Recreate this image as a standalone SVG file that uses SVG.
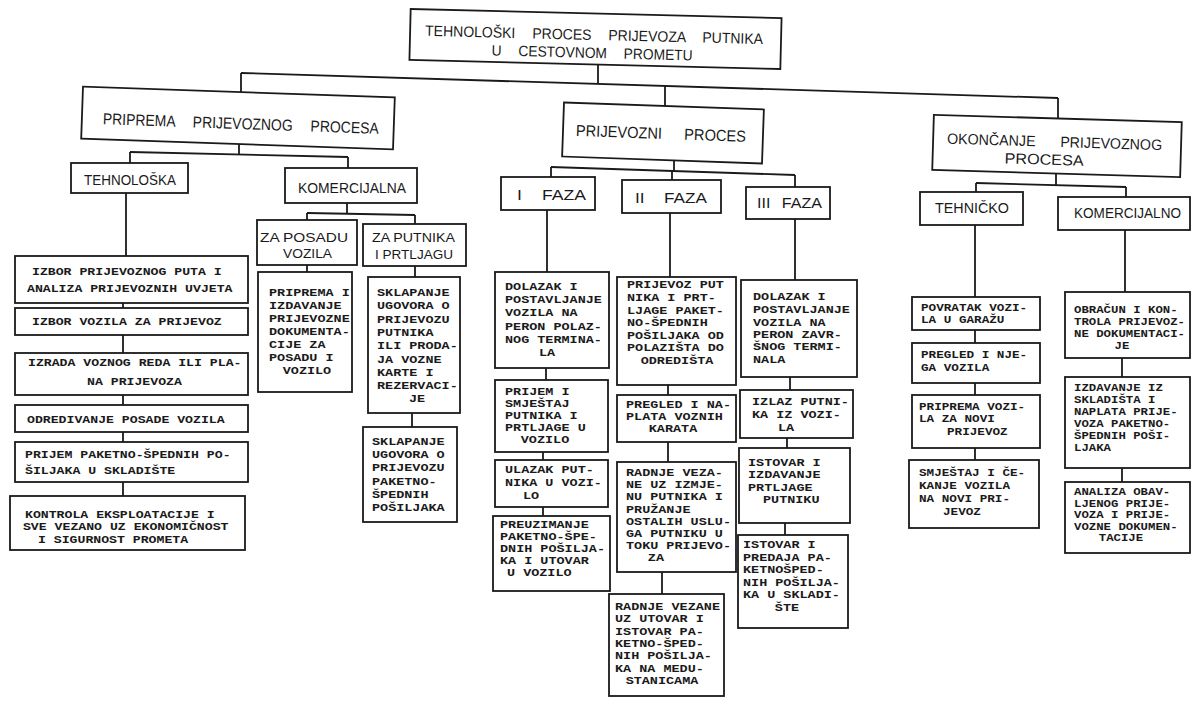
<svg xmlns="http://www.w3.org/2000/svg" width="1192" height="704" viewBox="0 0 1192 704">
<style>
.box{fill:#fff;stroke:#1a1a1a;stroke-width:1.8}
.ln{stroke:#1a1a1a;stroke-width:1.8;fill:none}
.h{font-family:"Liberation Sans",Arial,sans-serif;fill:#1a1a1a;font-size:14px}
.tl{font-family:"Liberation Mono","Courier New",monospace;font-weight:bold;font-size:11px;fill:#1a1a1a}
.t{font-family:"Liberation Mono","Courier New",monospace;font-weight:bold;font-size:10.6px;fill:#1a1a1a}
.tk{font-family:"Liberation Mono","Courier New",monospace;font-weight:bold;font-size:10.2px;fill:#1a1a1a}
.c{text-anchor:middle}
</style>
<rect width="1192" height="704" fill="#fff"/>
<g id="connectors">
<line class="ln" x1="598" y1="64.5" x2="598" y2="84"/>
<line class="ln" x1="241" y1="73" x2="1058" y2="98"/>
<line class="ln" x1="241" y1="73" x2="241" y2="92"/>
<line class="ln" x1="665" y1="86" x2="665" y2="106"/>
<line class="ln" x1="1058" y1="98" x2="1058" y2="118.5"/>
<line class="ln" x1="239" y1="144" x2="239" y2="154.5"/>
<line class="ln" x1="130" y1="152" x2="348" y2="157"/>
<line class="ln" x1="130" y1="152" x2="130" y2="163"/>
<line class="ln" x1="348" y1="157" x2="348" y2="168"/>
<line class="ln" x1="674" y1="160.4" x2="674" y2="171"/>
<line class="ln" x1="551" y1="167" x2="795" y2="175"/>
<line class="ln" x1="551" y1="167" x2="551" y2="177"/>
<line class="ln" x1="672" y1="171" x2="672" y2="180"/>
<line class="ln" x1="795" y1="175" x2="795" y2="187"/>
<line class="ln" x1="1056" y1="173.5" x2="1056" y2="185"/>
<line class="ln" x1="976" y1="183" x2="1126" y2="187"/>
<line class="ln" x1="976" y1="183" x2="976" y2="192"/>
<line class="ln" x1="1126" y1="187" x2="1126" y2="197"/>
<line class="ln" x1="347" y1="203" x2="347" y2="214"/>
<line class="ln" x1="307" y1="213" x2="415" y2="215"/>
<line class="ln" x1="307" y1="213" x2="307" y2="220"/>
<line class="ln" x1="415" y1="215" x2="415" y2="224"/>
<line class="ln" x1="126" y1="193" x2="126" y2="256"/>
<line class="ln" x1="123" y1="303" x2="123" y2="308"/>
<line class="ln" x1="123" y1="335" x2="123" y2="353"/>
<line class="ln" x1="123" y1="395" x2="123" y2="405"/>
<line class="ln" x1="123" y1="432" x2="123" y2="442"/>
<line class="ln" x1="123" y1="482" x2="123" y2="496"/>
<line class="ln" x1="307" y1="265" x2="307" y2="272"/>
<line class="ln" x1="415" y1="266" x2="415" y2="277"/>
<line class="ln" x1="412" y1="413" x2="412" y2="427"/>
<line class="ln" x1="547" y1="210" x2="547" y2="272"/>
<line class="ln" x1="546" y1="368" x2="546" y2="380"/>
<line class="ln" x1="543" y1="452" x2="543" y2="460"/>
<line class="ln" x1="543" y1="507" x2="543" y2="516"/>
<line class="ln" x1="670" y1="213" x2="670" y2="277"/>
<line class="ln" x1="668" y1="385" x2="668" y2="395"/>
<line class="ln" x1="668" y1="442" x2="668" y2="462"/>
<line class="ln" x1="662" y1="572" x2="662" y2="594"/>
<line class="ln" x1="795" y1="219" x2="795" y2="280"/>
<line class="ln" x1="790" y1="377" x2="790" y2="390"/>
<line class="ln" x1="787" y1="438" x2="787" y2="448"/>
<line class="ln" x1="785" y1="523" x2="785" y2="535"/>
<line class="ln" x1="975" y1="225" x2="975" y2="297"/>
<line class="ln" x1="975" y1="330" x2="975" y2="343"/>
<line class="ln" x1="975" y1="383" x2="975" y2="395"/>
<line class="ln" x1="975" y1="448" x2="975" y2="460"/>
<line class="ln" x1="1125" y1="230" x2="1125" y2="292"/>
<line class="ln" x1="1122" y1="358" x2="1122" y2="377"/>
<line class="ln" x1="1122" y1="468" x2="1122" y2="482"/>
</g>
<g id="n-title" transform="rotate(1.4 595.5 39)">
<rect class="box" x="410" y="13.5" width="371" height="51"/>
<text class="h" style="font-size:15px;word-spacing:14px" x="425" y="40" textLength="338" lengthAdjust="spacingAndGlyphs">TEHNOLOŠKI PROCES PRIJEVOZA PUTNIKA</text>
<text class="h" style="font-size:15px;word-spacing:14px" x="492" y="58" textLength="201" lengthAdjust="spacingAndGlyphs">U CESTOVNOM PROMETU</text>
</g>
<g id="n-priprema" transform="rotate(2 238 118)">
<rect class="box" x="82" y="92" width="312" height="52"/>
<text class="h" style="font-size:16px;word-spacing:16px" x="103" y="129" textLength="276" lengthAdjust="spacingAndGlyphs">PRIPREMA PRIJEVOZNOG PROCESA</text>
</g>
<g id="n-prijevozni" transform="rotate(2 663 133)">
<rect class="box" x="563" y="106" width="200" height="54"/>
<text class="h" style="font-size:16px;word-spacing:20px" x="576" y="139" textLength="170" lengthAdjust="spacingAndGlyphs">PRIJEVOZNI PROCES</text>
</g>
<g id="n-okoncanje" transform="rotate(1.7 1057 146)">
<rect class="box" x="933" y="118.5" width="248" height="55"/>
<text class="h" style="font-size:15px;word-spacing:22px" x="947" y="147" textLength="215" lengthAdjust="spacingAndGlyphs">OKONČANJE PRIJEVOZNOG</text>
<text class="h" style="font-size:15px" x="1005" y="165" textLength="79" lengthAdjust="spacingAndGlyphs">PROCESA</text>
</g>
<g id="n-tehnoloska">
<rect class="box" x="71" y="163" width="117" height="30"/>
<text class="h" x="84" y="185" textLength="92" lengthAdjust="spacingAndGlyphs">TEHNOLOŠKA</text>
</g>
<g id="n-komercijalna">
<rect class="box" x="285" y="168" width="132" height="35"/>
<text class="h" x="298" y="193" textLength="108" lengthAdjust="spacingAndGlyphs">KOMERCIJALNA</text>
</g>
<g id="n-za-posadu">
<rect class="box" x="257" y="220" width="100" height="45"/>
<text class="h" style="font-size:13px" x="260" y="242" textLength="88" lengthAdjust="spacingAndGlyphs">ZA POSADU</text>
<text class="h" style="font-size:13px" x="283" y="258" textLength="49" lengthAdjust="spacingAndGlyphs">VOZILA</text>
</g>
<g id="n-za-putnika">
<rect class="box" x="363" y="224" width="103" height="42"/>
<text class="h" style="font-size:13px" x="372" y="242" textLength="83" lengthAdjust="spacingAndGlyphs">ZA PUTNIKA</text>
<text class="h" style="font-size:13px" x="375" y="259" textLength="78" lengthAdjust="spacingAndGlyphs">I PRTLJAGU</text>
</g>
<g id="n-faza1">
<rect class="box" x="501" y="177" width="94" height="33"/>
<text class="h" style="word-spacing:12px" x="517" y="200" textLength="69" lengthAdjust="spacingAndGlyphs">I FAZA</text>
</g>
<g id="n-faza2">
<rect class="box" x="622" y="180" width="99" height="33"/>
<text class="h" style="word-spacing:12px" x="635" y="203" textLength="72" lengthAdjust="spacingAndGlyphs">II FAZA</text>
</g>
<g id="n-faza3">
<rect class="box" x="746" y="187" width="84" height="32"/>
<text class="h" style="word-spacing:6px" x="757" y="208" textLength="65" lengthAdjust="spacingAndGlyphs">III FAZA</text>
</g>
<g id="n-tehnicko">
<rect class="box" x="920" y="192" width="103" height="33"/>
<text class="h" x="935" y="213" textLength="74" lengthAdjust="spacingAndGlyphs">TEHNIČKO</text>
</g>
<g id="n-komercijalno">
<rect class="box" x="1058" y="197" width="132" height="33"/>
<text class="h" x="1074" y="218" textLength="107" lengthAdjust="spacingAndGlyphs">KOMERCIJALNO</text>
</g>
<g id="n-izbor-puta">
<rect class="box" x="15" y="256" width="233" height="47"/>
<g transform="translate(32 0) scale(1.2 1)">
<text class="tl" x="0" y="275">IZBOR PRIJEVOZNOG PUTA I</text>
<text class="tl" x="-4.2" y="292">ANALIZA PRIJEVOZNIH UVJETA</text>
</g>
</g>
<g id="n-izbor-vozila">
<rect class="box" x="15" y="308" width="233" height="27"/>
<g transform="translate(32 0) scale(1.2 1)">
<text class="tl" x="0" y="325">IZBOR VOZILA ZA PRIJEVOZ</text>
</g>
</g>
<g id="n-izrada">
<rect class="box" x="15" y="353" width="233" height="42"/>
<g transform="translate(28 0) scale(1.2 1)">
<text class="tl" x="0" y="366">IZRADA VOZNOG REDA ILI PLA-</text>
<text class="tl" x="49.2" y="385">NA PRIJEVOZA</text>
</g>
</g>
<g id="n-odredivanje">
<rect class="box" x="15" y="405" width="233" height="27"/>
<g transform="translate(27 0) scale(1.2 1)">
<text class="tl" x="0" y="423">ODREDIVANJE POSADE VOZILA</text>
</g>
</g>
<g id="n-prijem-posiljaka">
<rect class="box" x="15" y="442" width="233" height="40"/>
<g transform="translate(25 0) scale(1.2 1)">
<text class="tl" x="0" y="458">PRIJEM PAKETNO-ŠPEDNIH PO-</text>
<text class="tl" x="0" y="474">ŠILJAKA U SKLADIŠTE</text>
</g>
</g>
<g id="n-kontrola">
<rect class="box" x="10" y="496" width="235" height="54"/>
<g transform="translate(25 0) scale(1.2 1)">
<text class="tl" x="0" y="518">KONTROLA EKSPLOATACIJE I</text>
<text class="tl" x="-1.7" y="530.5">SVE VEZANO UZ EKONOMIČNOST</text>
<text class="tl" x="10.8" y="543">I SIGURNOST PROMETA</text>
</g>
</g>
<g id="n-priprema-dok">
<rect class="box" x="258" y="272" width="94" height="120"/>
<g transform="translate(269 0) scale(1.27 1)">
<text class="t" x="0" y="296">PRIPREMA I</text>
<text class="t" x="0" y="309">IZDAVANJE</text>
<text class="t" x="0" y="322">PRIJEVOZNE</text>
<text class="t" x="0" y="335">DOKUMENTA-</text>
<text class="t" x="0" y="348">CIJE ZA</text>
<text class="t" x="0" y="361">POSADU I</text>
<text class="t c" x="29.9" y="374">VOZILO</text>
</g>
</g>
<g id="n-sklapanje-putnik">
<rect class="box" x="368" y="277" width="92" height="136"/>
<g transform="translate(377 0) scale(1.27 1)">
<text class="t" x="0" y="296">SKLAPANJE</text>
<text class="t" x="0" y="309">UGOVORA O</text>
<text class="t" x="0" y="323">PRIJEVOZU</text>
<text class="t" x="0" y="336">PUTNIKA</text>
<text class="t" x="0" y="349">ILI PRODA-</text>
<text class="t" x="0" y="363">JA VOZNE</text>
<text class="t" x="0" y="376">KARTE I</text>
<text class="t" x="0" y="389">REZERVACI-</text>
<text class="t c" x="31.5" y="402">JE</text>
</g>
</g>
<g id="n-sklapanje-paket">
<rect class="box" x="363" y="427" width="94" height="95"/>
<g transform="translate(372 0) scale(1.27 1)">
<text class="t" x="0" y="445">SKLAPANJE</text>
<text class="t" x="0" y="458">UGOVORA O</text>
<text class="t" x="0" y="471">PRIJEVOZU</text>
<text class="t" x="0" y="485">PAKETNO-</text>
<text class="t" x="0" y="498">ŠPEDNIH</text>
<text class="t" x="0" y="511">POŠILJAKA</text>
</g>
</g>
<g id="n-polazak">
<rect class="box" x="495" y="272" width="114" height="96"/>
<g transform="translate(505 0) scale(1.27 1)">
<text class="t" x="0" y="290">DOLAZAK I</text>
<text class="t" x="0" y="303">POSTAVLJANJE</text>
<text class="t" x="0" y="316">VOZILA NA</text>
<text class="t" x="0" y="330">PERON POLAZ-</text>
<text class="t" x="0" y="343">NOG TERMINA-</text>
<text class="t c" x="33.1" y="356">LA</text>
</g>
</g>
<g id="n-prijem-putnika">
<rect class="box" x="495" y="380" width="113" height="72"/>
<g transform="translate(505 0) scale(1.27 1)">
<text class="t" x="0" y="395">PRIJEM I</text>
<text class="t" x="0" y="407">SMJEŠTAJ</text>
<text class="t" x="0" y="419">PUTNIKA I</text>
<text class="t" x="0" y="431">PRTLJAGE U</text>
<text class="t c" x="31.5" y="443">VOZILO</text>
</g>
</g>
<g id="n-ulazak">
<rect class="box" x="495" y="460" width="113" height="47"/>
<g transform="translate(505 0) scale(1.27 1)">
<text class="t" x="0" y="473">ULAZAK PUT-</text>
<text class="t" x="0" y="486">NIKA U VOZI-</text>
<text class="t c" x="20.5" y="499">LO</text>
</g>
</g>
<g id="n-preuzimanje">
<rect class="box" x="493" y="516" width="117" height="75"/>
<g transform="translate(500 0) scale(1.27 1)">
<text class="t" x="0" y="528">PREUZIMANJE</text>
<text class="t" x="0" y="540">PAKETNO-ŠPE-</text>
<text class="t" x="0" y="552">DNIH POŠILJA-</text>
<text class="t" x="0" y="564">KA I UTOVAR</text>
<text class="t" x="5.5" y="576">U VOZILO</text>
</g>
</g>
<g id="n-prijevoz">
<rect class="box" x="617" y="277" width="119" height="108"/>
<g transform="translate(627 0) scale(1.27 1)">
<text class="t" x="0" y="288">PRIJEVOZ PUT</text>
<text class="t" x="0" y="301">NIKA I PRT-</text>
<text class="t" x="0" y="314">LJAGE PAKET-</text>
<text class="t" x="0" y="326">NO-ŠPEDNIH</text>
<text class="t" x="0" y="339">POŠILJAKA OD</text>
<text class="t" x="0" y="351">POLAZIŠTA DO</text>
<text class="t c" x="39.4" y="364">ODREDIŠTA</text>
</g>
</g>
<g id="n-pregled-karata">
<rect class="box" x="617" y="395" width="119" height="47"/>
<g transform="translate(626 0) scale(1.27 1)">
<text class="t" x="0" y="408">PREGLED I NA-</text>
<text class="t" x="0" y="420">PLATA VOZNIH</text>
<text class="t c" x="37" y="432">KARATA</text>
</g>
</g>
<g id="n-radnje-izmjena">
<rect class="box" x="617" y="462" width="119" height="110"/>
<g transform="translate(626 0) scale(1.27 1)">
<text class="t" x="0" y="476">RADNJE VEZA-</text>
<text class="t" x="0" y="488">NE UZ IZMJE-</text>
<text class="t" x="0" y="500">NU PUTNIKA I</text>
<text class="t" x="0" y="513">PRUŽANJE</text>
<text class="t" x="0" y="525">OSTALIH USLU-</text>
<text class="t" x="0" y="537">GA PUTNIKU U</text>
<text class="t" x="0" y="549">TOKU PRIJEVO-</text>
<text class="t c" x="23.6" y="561">ZA</text>
</g>
</g>
<g id="n-radnje-utovar">
<rect class="box" x="609" y="594" width="115" height="102"/>
<g transform="translate(615 0) scale(1.27 1)">
<text class="t" x="0" y="610">RADNJE VEZANE</text>
<text class="t" x="0" y="622">UZ UTOVAR I</text>
<text class="t" x="0" y="635">ISTOVAR PA-</text>
<text class="t" x="0" y="647">KETNO-ŠPED-</text>
<text class="t" x="0" y="659">NIH POŠILJA-</text>
<text class="t" x="0" y="672">KA NA MEDU-</text>
<text class="t c" x="37" y="684">STANICAMA</text>
</g>
</g>
<g id="n-dolazak">
<rect class="box" x="741" y="280" width="116" height="97"/>
<g transform="translate(753 0) scale(1.27 1)">
<text class="t" x="0" y="300">DOLAZAK I</text>
<text class="t" x="0" y="313">POSTAVLJANJE</text>
<text class="t" x="0" y="326">VOZILA NA</text>
<text class="t" x="0" y="338">PERON ZAVR-</text>
<text class="t" x="0" y="350">ŠNOG TERMI-</text>
<text class="t" x="0" y="363">NALA</text>
</g>
</g>
<g id="n-izlaz">
<rect class="box" x="740" y="390" width="113" height="48"/>
<g transform="translate(752 0) scale(1.27 1)">
<text class="t" x="0" y="405">IZLAZ PUTNI-</text>
<text class="t" x="0" y="418">KA IZ VOZI-</text>
<text class="t c" x="26.8" y="431">LA</text>
</g>
</g>
<g id="n-istovar-prtljage">
<rect class="box" x="739" y="448" width="111" height="75"/>
<g transform="translate(748 0) scale(1.27 1)">
<text class="t" x="0" y="466">ISTOVAR I</text>
<text class="t" x="0" y="478">IZDAVANJE</text>
<text class="t" x="0" y="491">PRTLJAGE</text>
<text class="t" x="11.8" y="503">PUTNIKU</text>
</g>
</g>
<g id="n-istovar-posiljaka">
<rect class="box" x="738" y="535" width="110" height="93"/>
<g transform="translate(743 0) scale(1.27 1)">
<text class="t" x="0" y="548">ISTOVAR I</text>
<text class="t" x="0" y="561">PREDAJA PA-</text>
<text class="t" x="0" y="573">KETNOŠPED-</text>
<text class="t" x="0" y="586">NIH POŠILJA-</text>
<text class="t" x="0" y="598">KA U SKLADI-</text>
<text class="t c" x="34.6" y="611">ŠTE</text>
</g>
</g>
<g id="n-povratak">
<rect class="box" x="912" y="297" width="128" height="33"/>
<g transform="translate(921 0) scale(1.195 1)">
<text class="t" x="0" y="311">POVRATAK VOZI-</text>
<text class="t" x="0" y="323.5">LA U GARAŽU</text>
</g>
</g>
<g id="n-pregled-vozila">
<rect class="box" x="912" y="343" width="128" height="40"/>
<g transform="translate(921 0) scale(1.195 1)">
<text class="t" x="0" y="358">PREGLED I NJE-</text>
<text class="t" x="0" y="371">GA VOZILA</text>
</g>
</g>
<g id="n-priprema-vozila">
<rect class="box" x="912" y="395" width="128" height="53"/>
<g transform="translate(919 0) scale(1.195 1)">
<text class="t" x="0" y="410">PRIPREMA VOZI-</text>
<text class="t" x="0" y="422.5">LA ZA NOVI</text>
<text class="t" x="23.4" y="435">PRIJEVOZ</text>
</g>
</g>
<g id="n-smjestaj">
<rect class="box" x="909" y="460" width="130" height="68"/>
<g transform="translate(919 0) scale(1.195 1)">
<text class="t" x="0" y="476">SMJEŠTAJ I ČE-</text>
<text class="t" x="0" y="489">KANJE VOZILA</text>
<text class="t" x="0" y="502">NA NOVI PRI-</text>
<text class="t" x="20.1" y="515">JEVOZ</text>
</g>
</g>
<g id="n-obracun">
<rect class="box" x="1065" y="292" width="125" height="66"/>
<g transform="translate(1074 0) scale(1.21 1)">
<text class="tk" x="0" y="313">OBRAČUN I KON-</text>
<text class="tk" x="0" y="325">TROLA PRIJEVOZ-</text>
<text class="tk" x="0" y="337">NE DOKUMENTACI-</text>
<text class="tk c" x="39.7" y="349">JE</text>
</g>
</g>
<g id="n-izdavanje">
<rect class="box" x="1065" y="377" width="125" height="91"/>
<g transform="translate(1074 0) scale(1.21 1)">
<text class="tk" x="0" y="391">IZDAVANJE IZ</text>
<text class="tk" x="0" y="403">SKLADIŠTA I</text>
<text class="tk" x="0" y="415">NAPLATA PRIJE-</text>
<text class="tk" x="0" y="427">VOZA PAKETNO-</text>
<text class="tk" x="0" y="439">ŠPEDNIH POŠI-</text>
<text class="tk" x="0" y="451">LJAKA</text>
</g>
</g>
<g id="n-analiza">
<rect class="box" x="1065" y="482" width="125" height="71"/>
<g transform="translate(1074 0) scale(1.21 1)">
<text class="tk" x="0" y="495.5">ANALIZA OBAV-</text>
<text class="tk" x="0" y="507">LJENOG PRIJE-</text>
<text class="tk" x="0" y="518.5">VOZA I PRIJE-</text>
<text class="tk" x="0" y="530">VOZNE DOKUMEN-</text>
<text class="tk c" x="38.8" y="541.5">TACIJE</text>
</g>
</g>
</svg>
